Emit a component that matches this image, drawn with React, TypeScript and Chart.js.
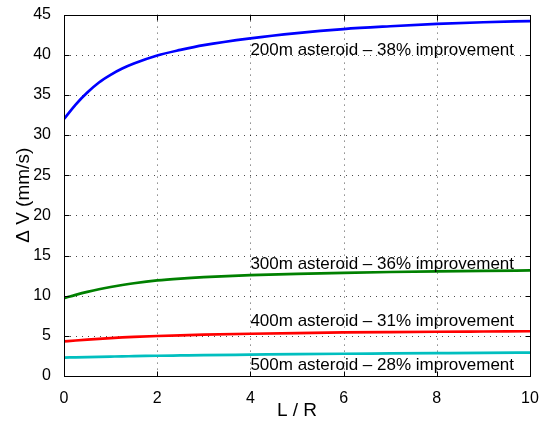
import React, { useEffect, useRef } from 'react';
import { Chart, registerables } from 'chart.js';

Chart.register(...registerables);

// Length-to-radius ratio samples
const lengthRatio = [0, 0.25, 0.5, 0.75, 1, 1.25, 1.5, 2, 2.5, 3, 4, 5, 6, 7, 8, 9, 10];

// Delta-V (mm/s) for each asteroid size
const dv200 = [32.0, 33.8, 35.3, 36.55, 37.5, 38.28, 38.9, 39.9, 40.6, 41.2, 42.05, 42.7, 43.2, 43.55, 43.85, 44.05, 44.2];
const dv300 = [9.7, 10.1, 10.47, 10.8, 11.08, 11.33, 11.55, 11.9, 12.13, 12.3, 12.55, 12.72, 12.85, 12.95, 13.03, 13.09, 13.14];
const dv400 = [4.3, 4.42, 4.53, 4.63, 4.72, 4.8, 4.87, 4.98, 5.07, 5.14, 5.26, 5.35, 5.42, 5.47, 5.51, 5.54, 5.57];
const dv500 = [2.3, 2.33, 2.36, 2.39, 2.42, 2.45, 2.47, 2.52, 2.56, 2.6, 2.66, 2.72, 2.77, 2.81, 2.85, 2.89, 2.92];

const seriesNames = ['200m', '300m', '400m', '500m'];
const seriesColors = ['#0000ff', '#008000', '#ff0000', '#00bfbf'];

// Curve annotations (data coordinates of the text's left end and baseline)
const noteText = [
  '200m asteroid \u2013 38% improvement',
  '300m asteroid \u2013 36% improvement',
  '400m asteroid \u2013 31% improvement',
  '500m asteroid \u2013 28% improvement',
];
const noteX = [4, 4, 4, 4];
const noteY = [40.0, 13.3, 6.2, 0.8];

const xTicks = [0, 2, 4, 6, 8, 10];
const yTicks = [0, 5, 10, 15, 20, 25, 30, 35, 40, 45];

const FONT = "'Liberation Sans', Arial, Helvetica, sans-serif";

const framePlugin = {
  id: 'matlabFrame',
  beforeDatasetsDraw(chart: any) {
    const { ctx, chartArea: a, scales } = chart;
    const xs = scales.x;
    const ys = scales.y;
    ctx.save();
    ctx.strokeStyle = 'rgba(0,0,0,0.7)';
    ctx.lineWidth = 1;
    ctx.setLineDash([1, 5]);
    ctx.beginPath();
    xTicks.forEach((t) => {
      if (t === xs.min || t === xs.max) return;
      const px = Math.round(xs.getPixelForValue(t)) + 0.5;
      ctx.moveTo(px, a.top);
      ctx.lineTo(px, a.bottom);
    });
    yTicks.forEach((t) => {
      if (t === ys.min || t === ys.max) return;
      const py = Math.round(ys.getPixelForValue(t)) + 0.5;
      ctx.moveTo(a.left, py);
      ctx.lineTo(a.right, py);
    });
    ctx.stroke();
    ctx.restore();
  },
  afterDatasetsDraw(chart: any) {
    const { ctx, chartArea: a, scales } = chart;
    const xs = scales.x;
    const ys = scales.y;
    const L = Math.round(a.left) + 0.5;
    const R = Math.round(a.right) + 0.5;
    const T = Math.round(a.top) + 0.5;
    const B = Math.round(a.bottom) + 0.5;
    const tick = 5;
    ctx.save();
    ctx.strokeStyle = '#000';
    ctx.lineWidth = 1;
    ctx.setLineDash([]);
    ctx.strokeRect(L, T, R - L, B - T);
    ctx.beginPath();
    xTicks.forEach((t) => {
      const px = Math.round(xs.getPixelForValue(t)) + 0.5;
      ctx.moveTo(px, B);
      ctx.lineTo(px, B - tick);
      ctx.moveTo(px, T);
      ctx.lineTo(px, T + tick);
    });
    yTicks.forEach((t) => {
      const py = Math.round(ys.getPixelForValue(t)) + 0.5;
      ctx.moveTo(L, py);
      ctx.lineTo(L + tick, py);
      ctx.moveTo(R, py);
      ctx.lineTo(R - tick, py);
    });
    ctx.stroke();

    ctx.fillStyle = '#000';
    ctx.font = `17px ${FONT}`;
    ctx.textAlign = 'left';
    ctx.textBaseline = 'alphabetic';
    noteText.forEach((txt, i) => {
      ctx.fillText(txt, xs.getPixelForValue(noteX[i]), ys.getPixelForValue(noteY[i]));
    });
    ctx.restore();
  },
};

export default function App() {
  const canvasRef = useRef<HTMLCanvasElement | null>(null);

  useEffect(() => {
    document.body.style.margin = '0';
    const canvas = canvasRef.current;
    if (!canvas) return;
    const sets = [dv200, dv300, dv400, dv500];
    const chart = new Chart(canvas, {
      type: 'line',
      data: {
        datasets: sets.map((vals, i) => ({
          label: seriesNames[i],
          data: lengthRatio.map((x, j) => ({ x, y: vals[j] })),
          borderColor: seriesColors[i],
          backgroundColor: seriesColors[i],
          borderWidth: 2.7,
          pointRadius: 0,
          cubicInterpolationMode: 'monotone' as const,
          fill: false,
        })),
      },
      options: {
        responsive: false,
        animation: false,
        devicePixelRatio: 1,
        layout: { padding: { top: 9, right: 16, left: 0, bottom: 0 } },
        plugins: {
          legend: { display: false },
          tooltip: { enabled: false },
        },
        scales: {
          x: {
            type: 'linear',
            min: 0,
            max: 10,
            afterBuildTicks: (s: any) => {
              s.ticks = xTicks.map((v) => ({ value: v }));
            },
            afterFit: (s: any) => {
              s.height = 49;
            },
            grid: { display: false },
            border: { display: false },
            ticks: {
              color: '#000',
              font: { family: FONT, size: 16 },
              padding: 5,
              maxRotation: 0,
            },
            title: {
              display: true,
              text: 'L / R',
              color: '#000',
              font: { family: FONT, size: 19 },
              padding: { top: 0, bottom: 3 },
            },
          },
          y: {
            type: 'linear',
            min: 0,
            max: 45,
            afterBuildTicks: (s: any) => {
              s.ticks = yTicks.map((v) => ({ value: v }));
            },
            afterFit: (s: any) => {
              s.width = 64;
            },
            grid: { display: false },
            border: { display: false },
            ticks: {
              color: '#000',
              font: { family: FONT, size: 16 },
              padding: 5,
            },
            title: {
              display: true,
              text: '\u0394 V (mm/s)',
              color: '#000',
              font: { family: FONT, size: 19 },
              padding: { top: 12, bottom: 0 },
            },
          },
        },
      },
      plugins: [framePlugin],
    });
    return () => chart.destroy();
  }, []);

  return (
    <div style={{ position: 'absolute', left: 0, top: 0, width: 546, height: 425, background: '#fff' }}>
      <canvas ref={canvasRef} width={546} height={425} />
    </div>
  );
}
